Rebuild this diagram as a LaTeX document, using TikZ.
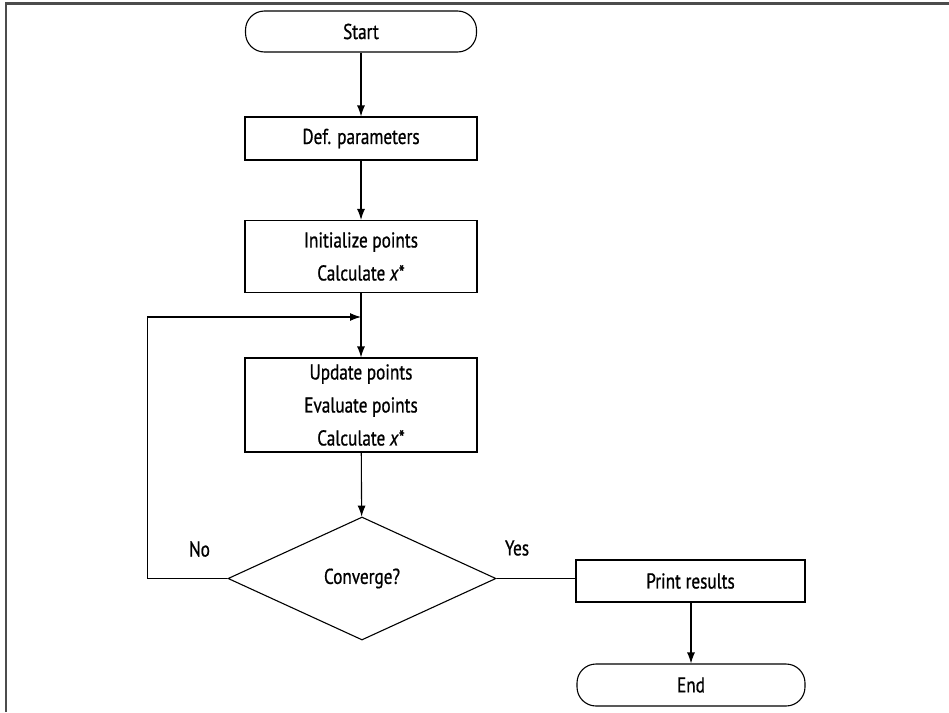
\documentclass[tikz,border=0pt]{standalone}
\usepackage{fontspec}
\setmainfont{PT Sans}[FakeStretch=0.8,FakeBold=0.8]
\usetikzlibrary{shapes.geometric,arrows.meta}
\tikzset{
  box/.style={draw, line width=1.1pt, minimum width=232pt, inner sep=0pt, align=center, font=\fontsize{21.5}{33}\selectfont},
  term/.style={box, rounded corners=19pt},
  dec/.style={draw, diamond, line width=1.1pt, minimum width=268pt, minimum height=123pt, inner sep=0pt, aspect=2.18, font=\fontsize{21.5}{33}\selectfont},
  arr/.style={line width=1.1pt, -{Latex[length=11pt,width=8pt]}},
  ln/.style={line width=1.1pt},
  lbl/.style={font=\fontsize{21.5}{24}\selectfont, inner sep=0pt},
}
\begin{document}
\begin{tikzpicture}[x=1pt,y=-1pt]
\useasboundingbox (0,0) rectangle (949,712);
\draw[line width=2.5pt, black!70] (6,712) -- (6,3.5) -- (949,3.5);
\node[term, minimum height=41pt, minimum width=231pt] (start) at (361,31.5) {Start};
\node[box, minimum height=43pt] (def) at (361,138.5) {Def. parameters};
\node[box, minimum height=72pt] (init) at (361,256.5) {Initialize points\\Calculate \textit{x}*};
\node[box, minimum height=94pt] (upd) at (361,405) {Update points\\Evaluate points\\Calculate \textit{x}*};
\node[dec] (conv) at (362,578.5) {Converge?};
\node[box, minimum height=42pt, minimum width=229pt] (print) at (690.5,581) {Print results};
\node[term, minimum height=42pt, minimum width=228pt] (end) at (691,685) {End};
\coordinate (loopin) at (361,317);
\node[lbl] (no) at (199.5,549) {No};
\node[lbl] (yes) at (517,548) {Yes};
\draw[arr] (start) -- (def);
\draw[arr] (def) -- (init);
\draw[arr] (init) -- (upd);
\draw[arr] (upd) -- (conv);
\draw[arr] (conv.west) -- ++(-80,0) |- (loopin);
\draw[ln] (conv.east) -- (conv.east -| print.west);
\draw[arr] (print.south -| end.north) -- (end.north);
\end{tikzpicture}
\end{document}
